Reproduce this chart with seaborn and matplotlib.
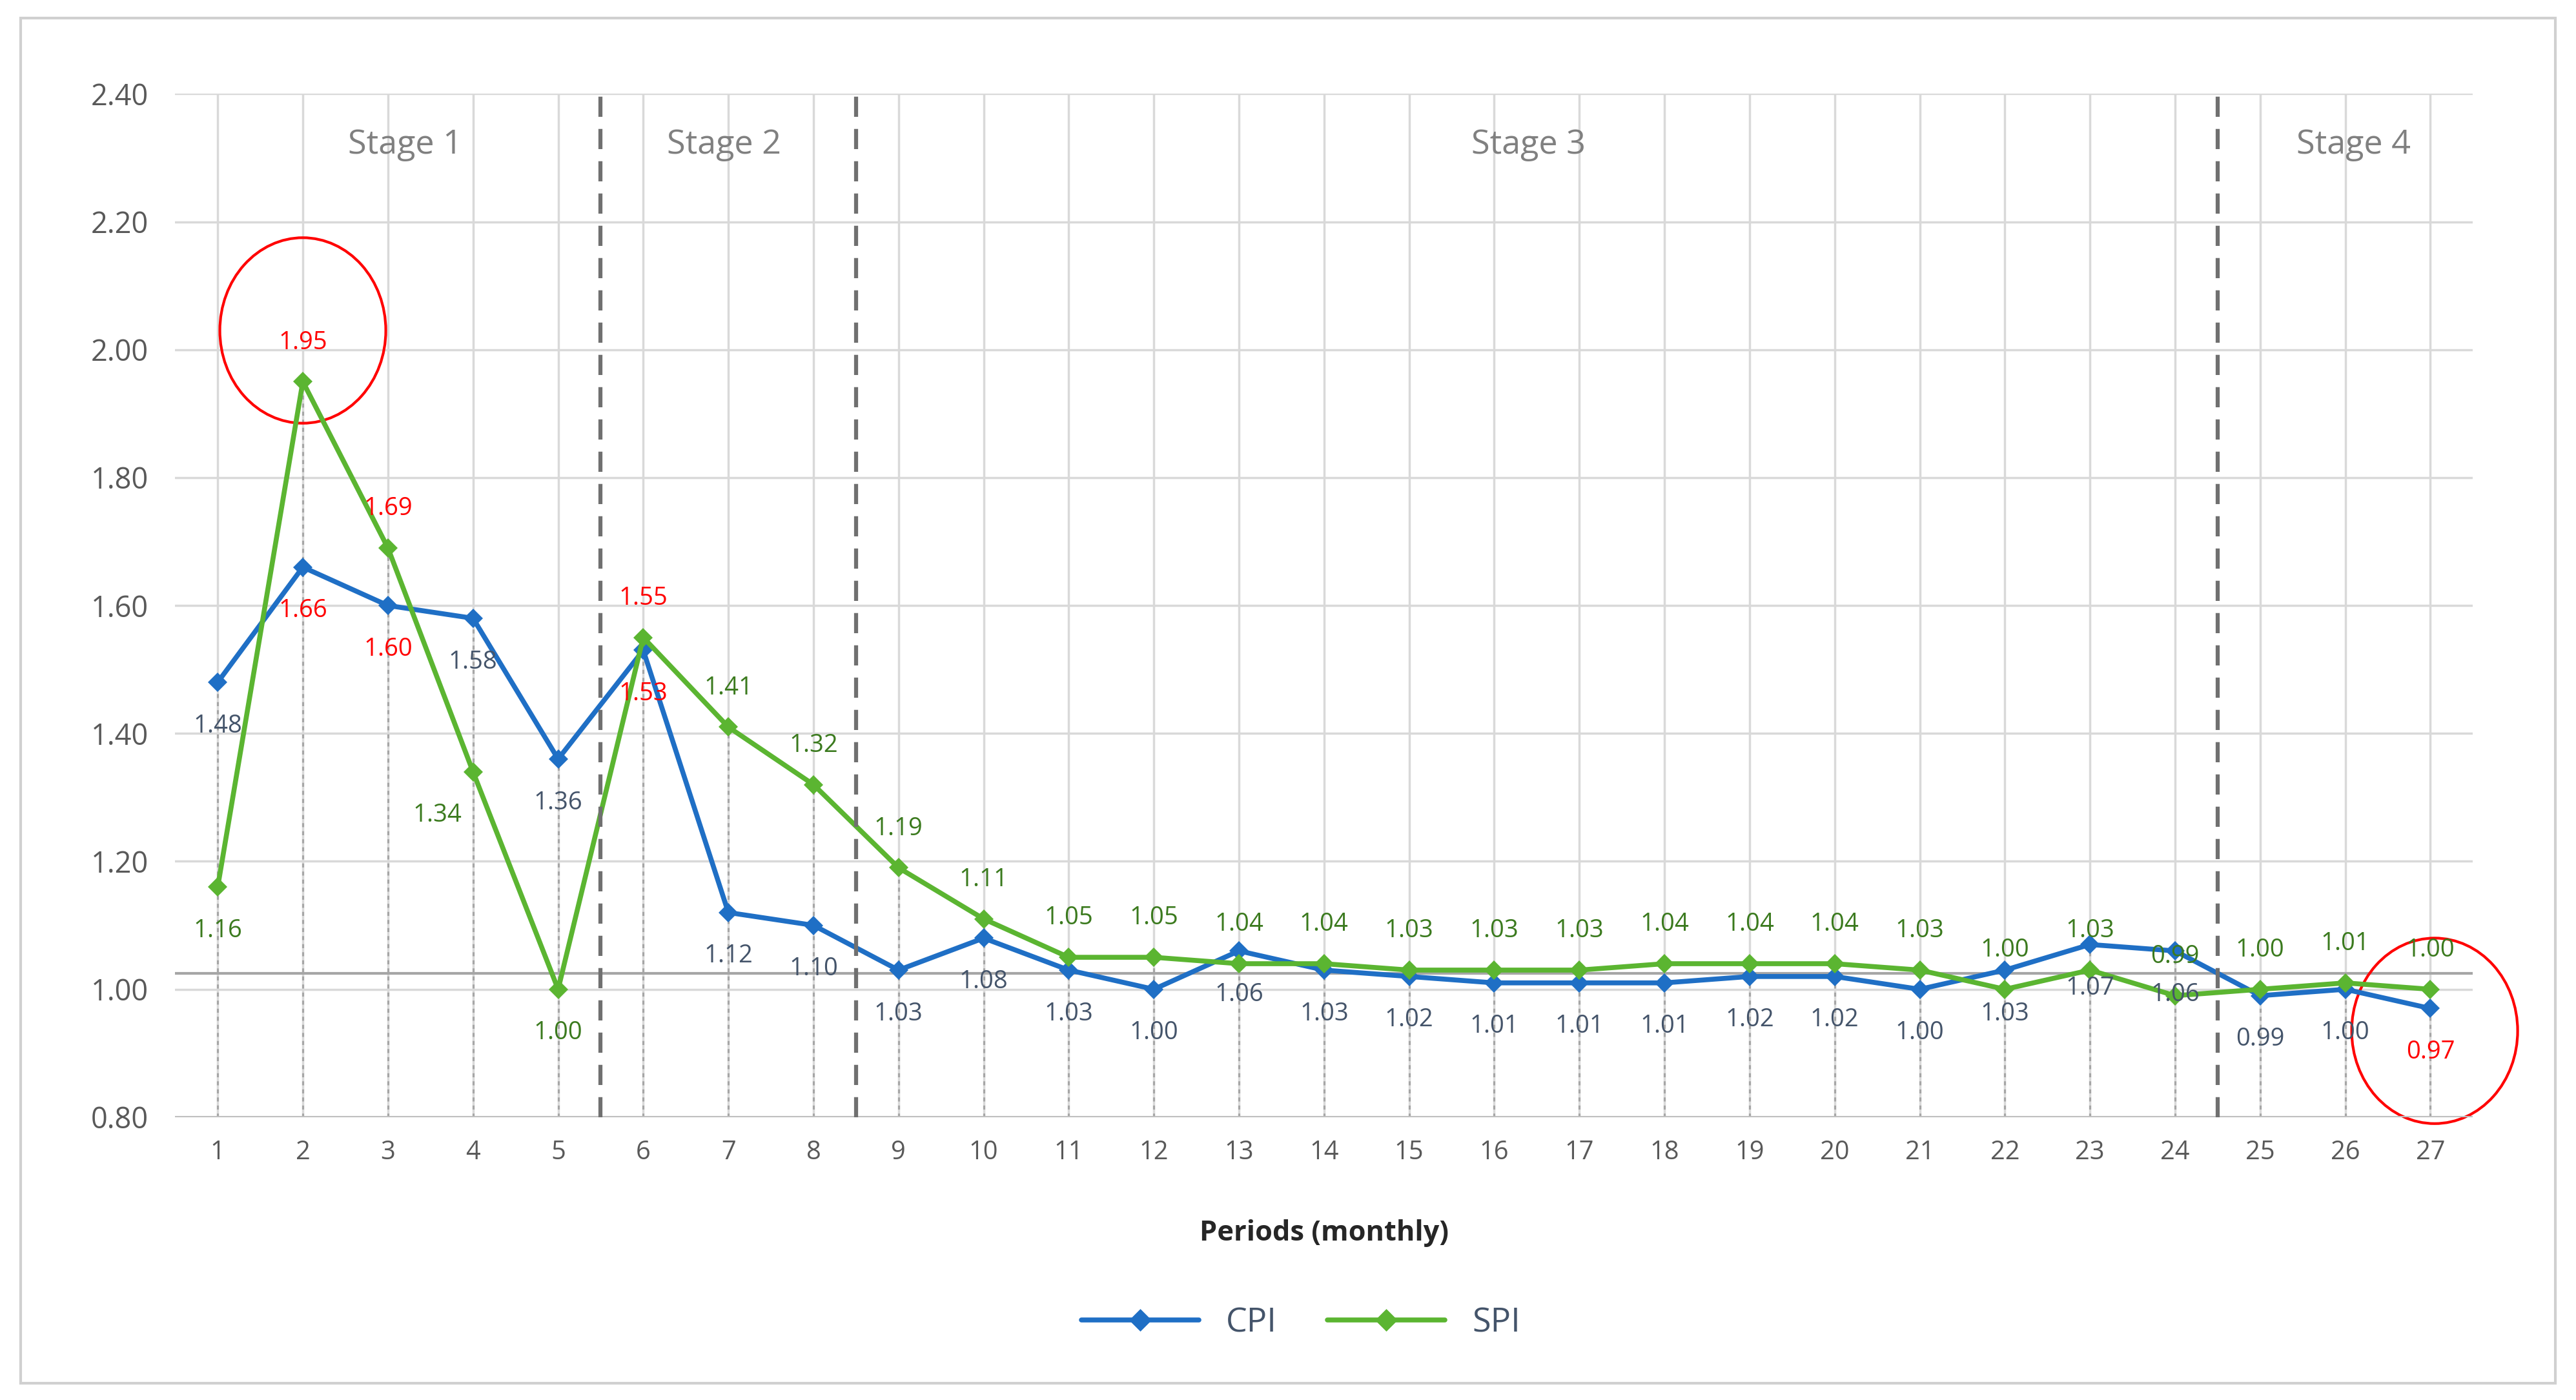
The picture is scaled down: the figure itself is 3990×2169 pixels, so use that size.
import matplotlib
matplotlib.use("Agg")
import matplotlib.pyplot as plt
import seaborn as sns
import pandas as pd
from matplotlib.patches import Ellipse, Rectangle
from matplotlib.lines import Line2D

periods = list(range(1, 28))
cpi = [1.48,1.66,1.60,1.58,1.36,1.53,1.12,1.10,1.03,1.08,1.03,1.00,1.06,1.03,1.02,1.01,1.01,1.01,1.02,1.02,1.00,1.03,1.07,1.06,0.99,1.00,0.97]
spi = [1.16,1.95,1.69,1.34,1.00,1.55,1.41,1.32,1.19,1.11,1.05,1.05,1.04,1.04,1.03,1.03,1.03,1.04,1.04,1.04,1.03,1.00,1.03,0.99,1.00,1.01,1.00]
stages = ["Stage 1", "Stage 2", "Stage 3", "Stage 4"]
stage_centers = [3.2, 6.95, 16.4, 26.1]
stage_bounds = [5.5, 8.5, 24.5]
red_idx = {2, 3, 6}

sns.set_theme(style="whitegrid")
plt.rcParams['font.family'] = ['Open Sans', 'DejaVu Sans']

df = pd.DataFrame({"Period": periods * 2, "Value": cpi + spi,
                   "Series": ["CPI"] * 27 + ["SPI"] * 27})

fig = plt.figure(figsize=(15.96, 8.676), dpi=250)
fig.patches.append(Rectangle((0.008, 0.012), 0.984, 0.975, transform=fig.transFigure,
                             fill=False, edgecolor="#d0d0d0", lw=1.2))
ax = fig.add_axes([0.068, 0.202, 0.892, 0.731])
c_cpi, c_spi = "#1F6FC5", "#5BB531"
sns.lineplot(data=df, x="Period", y="Value", hue="Series", palette={"CPI": c_cpi, "SPI": c_spi},
             marker="D", markersize=6, markeredgewidth=0, lw=2.2, ax=ax, legend=False)

ax.set_xlim(0.5, 27.5)
ax.set_ylim(0.8, 2.4)
ax.set_xticks(periods)
ax.set_yticks([0.8 + 0.2 * i for i in range(9)])
ax.set_yticklabels([f"{0.8 + 0.2 * i:.2f}" for i in range(9)])
ax.grid(True, color="#d9d9d9", lw=1)
for s in ax.spines.values():
    s.set_visible(False)
ax.axhline(0.8, color="#bfbfbf", lw=1.2)
ax.tick_params(axis="x", labelsize=11.5, colors="#595959", length=0, pad=10)
ax.tick_params(axis="y", labelsize=13, colors="#595959", length=0, pad=12)
ax.set_xlabel("Periods (monthly)", fontsize=12.5, fontweight="bold", labelpad=24)
ax.set_ylabel("")

for p, a, b in zip(periods, cpi, spi):
    ax.plot([p, p], [0.8, max(a, b)], ls=(0, (2, 2)), color="#a6a6a6", lw=0.9, zorder=1)
ax.axhline(1.025, color="#a6a6a6", lw=1.2, zorder=1)
for xb in stage_bounds:
    ax.axvline(xb, color="#707070", ls=(0, (5, 3)), lw=1.8)
for name, xc in zip(stages, stage_centers):
    ax.text(xc, 2.32, name, ha="center", va="center", fontsize=15, color="#808080")

gcol, bcol = "#3B7A1E", "#44546A"
for p, a, b in zip(periods, cpi, spi):
    rc = p in red_idx or p == 27
    ax.annotate(f"{a:.2f}", (p, a), xytext=(0, -14), textcoords="offset points", ha="center",
                va="top", fontsize=11, color="red" if rc else bcol)
    rs = p in red_idx
    below = p in (1, 5)
    off = (0, -14) if below else (0, 12)
    if p == 4:
        off = (-16, -14)
        below = True
    ax.annotate(f"{b:.2f}", (p, b), xytext=off, textcoords="offset points", ha="center",
                va="top" if below else "bottom", fontsize=11, color="red" if rs else gcol)

ax.add_patch(Ellipse((2, 2.03), 1.95, 0.29, fill=False, edgecolor="red", lw=1.2, clip_on=False))
ax.add_patch(Ellipse((27.05, 0.935), 1.95, 0.29, fill=False, edgecolor="red", lw=1.2, clip_on=False))

handles = [Line2D([], [], color=c_cpi, marker="D", markersize=6, lw=2.2),
           Line2D([], [], color=c_spi, marker="D", markersize=6, lw=2.2)]
fig.legend(handles, ["CPI", "SPI"], loc="center", bbox_to_anchor=(0.505, 0.055), ncol=2,
           frameon=False, fontsize=15, labelcolor="#44546A", handlelength=3.5, columnspacing=1.5)

fig.savefig("out.png", dpi=250)
